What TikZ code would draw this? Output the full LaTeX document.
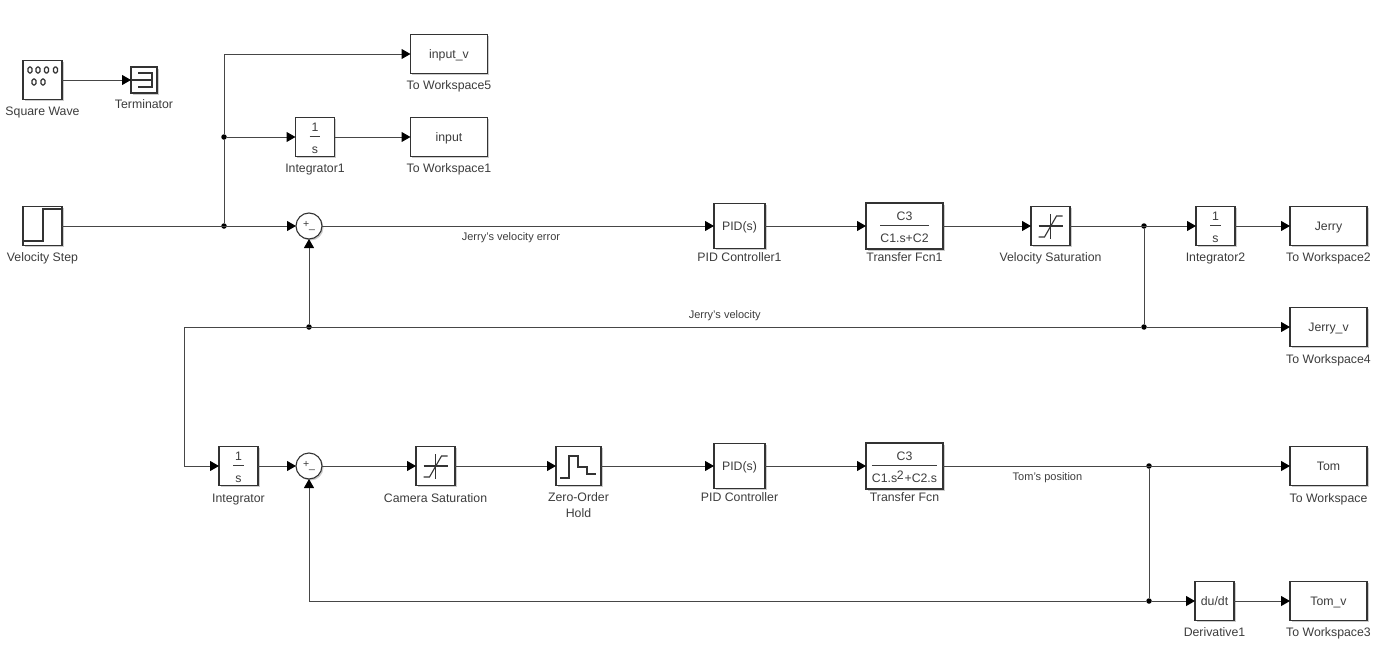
\documentclass[tikz,border=0pt]{standalone}
\usepackage{amsmath}
\usepackage{fontspec}
\setmainfont{Liberation Sans}
\usepackage{xcolor}
\usetikzlibrary{arrows.meta, positioning, shadows}
\definecolor{wirecol}{RGB}{70, 70, 70}
\definecolor{textcol}{RGB}{60, 60, 60}
\newcommand{\blockfrac}[2]{$\genfrac{}{}{1pt}{0}{\mbox{\rule[-1pt]{0pt}{12pt}#1}}{\mbox{\rule{0pt}{13pt}#2}}$}

\begin{document}
\begin{tikzpicture}[
    x=1pt, y=-1pt,
    block/.style={rectangle, draw=black!80, fill=white, line width=1.1pt, outer sep=0pt, inner sep=0pt, minimum width=39pt, minimum height=39pt, font=\fontsize{12.3}{14}\selectfont, text=textcol, drop shadow={shadow xshift=1.5pt, shadow yshift=-1.5pt, opacity=0.4}},
    txtblock/.style={block, text height=9pt, text depth=0pt},
    wksp/.style={txtblock, minimum width=77pt},
    ctrl/.style={txtblock, minimum width=51pt, minimum height=45pt},
    tfblock/.style={block, minimum width=77pt, minimum height=46pt},
    sumblock/.style={block, circle, minimum width=26pt, minimum height=26pt, font=\fontsize{10.5}{12}\selectfont},
    caption/.style={inner sep=0pt, text height=8pt, text depth=2pt, yshift=-1.5pt, text=textcol, font=\fontsize{12.3}{14}\selectfont},
    captwo/.style={inner sep=0pt, align=center, yshift=-1pt, text=textcol, font=\fontsize{12.3}{16}\selectfont},
    wirelabel/.style={inner sep=0pt, text=textcol, font=\fontsize{11}{13}\selectfont},
    dot/.style={circle, fill=black, inner sep=0pt, minimum size=5.5pt},
    icon/.style={draw=black!80, line width=1.1pt},
    wire/.style={draw=wirecol, line width=1pt},
    line/.style={draw=wirecol, line width=1pt, -{Triangle[length=9pt, width=10pt, color=black]}}
]
    \useasboundingbox (0,0) rectangle (1400,653);

    % Top left
    \node [block] (squarewave) at (42.5,80) {};
    \node [block, minimum width=26pt, minimum height=26pt, right=69pt of squarewave] (terminator) {};
    \node [caption, below=6pt of squarewave] (squarewave_cap) {Square Wave};
    \node [caption, below=6pt of terminator] (terminator_cap) {Terminator};

    % Velocity row
    \node [block] (velstep) at (42.5,226) {};
    \node [sumblock, right=234pt of velstep] (sumv) {+\raisebox{-1pt}{\_}};
    \node [ctrl, right=392pt of sumv] (pid1) {PID(s)};
    \node [tfblock, right=101pt of pid1] (tf1) {\blockfrac{C3}{C1.s+C2}};
    \node [block, right=88pt of tf1] (velsat) {};
    \node [block, right=126pt of velsat] (int2) {\blockfrac{\,1\,}{\,s\,}};
    \node [wksp, right=55pt of int2] (jerry) {Jerry};
    \node [wksp, below=62pt of jerry] (jerryv) {Jerry\_v};
    \node [caption, below=6pt of velstep] (velstep_cap) {Velocity Step};
    \node [caption, below=3pt of pid1] (pid1_cap) {PID Controller1};
    \node [caption, below=3pt of tf1] (tf1_cap) {Transfer Fcn1};
    \node [caption, below=6pt of velsat] (velsat_cap) {Velocity Saturation};
    \node [caption, below=6pt of int2] (int2_cap) {Integrator2};
    \node [caption, below=6pt of jerry] (jerry_cap) {To Workspace2};
    \node [caption, below=7pt of jerryv] (jerryv_cap) {To Workspace4};

    % Upper branch
    \node [block] (int1) at (315,137) {\blockfrac{\,1\,}{\,s\,}};
    \node [wksp, right=76pt of int1] (input) {input};
    \node [wksp, above=44pt of input] (inputv) {input\_v};
    \node [caption, below=6pt of int1] (int1_cap) {Integrator1};
    \node [caption, below=6pt of input] (input_cap) {To Workspace1};
    \node [caption, below=6pt of inputv] (inputv_cap) {To Workspace5};

    % Position row
    \node [block] (int3) at (238.5,466) {\blockfrac{\,1\,}{\,s\,}};
    \node [sumblock, right=38pt of int3] (sumt) {+\raisebox{-1pt}{\_}};
    \node [block, right=94pt of sumt] (camsat) {};
    \node [block, minimum width=45pt, right=101pt of camsat] (zoh) {};
    \node [ctrl, right=113pt of zoh] (pid) {PID(s)};
    \node [tfblock, right=101pt of pid] (tf) {\blockfrac{C3}{C1.s\kern-0.5pt\raisebox{3pt}{2}\kern1pt+C2.s}};
    \node [wksp, right=347pt of tf] (tom) {Tom};
    \node [wksp, below=96pt of tom] (tomv) {Tom\_v};
    \node [txtblock, left=56pt of tomv] (deriv) {du/dt};
    \node [caption, below=7pt of int3] (int3_cap) {Integrator};
    \node [caption, below=7pt of camsat] (camsat_cap) {Camera Saturation};
    \node [captwo, below=6pt of zoh] (zoh_cap) {Zero-Order\\Hold};
    \node [caption, below=3pt of pid] (pid_cap) {PID Controller};
    \node [caption, below=3pt of tf] (tf_cap) {Transfer Fcn};
    \node [caption, below=7pt of tom] (tom_cap) {To Workspace};
    \node [caption, below=6pt of tomv] (tomv_cap) {To Workspace3};
    \node [caption, below=6pt of deriv] (deriv_cap) {Derivative1};

    % Branch points
    \node [dot] (stepdot) at (224,0 |- velstep) {};
    \node [dot] (int1dot) at (224,0 |- int1) {};
    \node [dot] (jerrydot) at (1144,0 |- velsat) {};
    \node [dot] (jerryvdot) at (1144,0 |- jerryv) {};
    \node [dot] (sumvdot) at (sumv |- jerryv) {};
    \node [dot] (tomdot) at (1149,0 |- tom) {};
    \node [dot] (tomvdot) at (1149,0 |- deriv) {};
    \coordinate (corner) at (184,0 |- jerryv);

    % Paths
    \path [line] (squarewave) -- (terminator);
    \path [line] (velstep) -- (sumv);
    \path [wire] (stepdot) -- (int1dot);
    \path [line] (int1dot) -- (int1);
    \path [line] (int1dot) |- (inputv);
    \path [line] (int1) -- (input);
    \path [line] (sumv) -- node[wirelabel, pos=0.482, yshift=-11.5pt] (errlabel) {Jerry's velocity error} (pid1);
    \path [line] (pid1) -- (tf1);
    \path [line] (tf1) -- (velsat);
    \path [line] (velsat) -- (int2);
    \path [line] (int2) -- (jerry);
    \path [wire] (jerrydot) -- (jerryvdot);
    \path [line] (jerryvdot) -- (jerryv);
    \path [wire] (jerryvdot) -- node[wirelabel, pos=0.435, yshift=11pt] (vellabel) {Jerry's velocity} (corner);
    \path [line] (sumvdot) -- (sumv);
    \path [line] (corner) |- (int3);
    \path [line] (int3) -- (sumt);
    \path [line] (sumt) -- (camsat);
    \path [line] (camsat) -- (zoh);
    \path [line] (zoh) -- (pid);
    \path [line] (pid) -- (tf);
    \path [line] (tf) -- node[wirelabel, pos=0.301, yshift=-11.5pt] (poslabel) {Tom's position} (tom);
    \path [wire] (tomdot) -- (tomvdot);
    \path [line] (tomvdot) -- (deriv);
    \path [line] (deriv) -- (tomv);
    \path [line] (tomvdot) -| (sumt);

    % Icons
    \foreach \dx in {-12.5,-4.5,4,13}
        \draw [icon, rounded corners=1.5pt] ([shift={(\dx-2,-13)}]squarewave.center) rectangle ([shift={(\dx+2,-7)}]squarewave.center);
    \foreach \dx in {-8.5,0.5}
        \draw [icon, rounded corners=1.5pt] ([shift={(\dx-2,-1)}]squarewave.center) rectangle ([shift={(\dx+2,5)}]squarewave.center);
    \draw [icon] ([shift={(-6,-7)}]terminator.center) -- ([shift={(8,-7)}]terminator.center) -- ([shift={(8,7)}]terminator.center) -- ([shift={(-6,7)}]terminator.center);
    \draw [icon] ([shift={(-13,0)}]terminator.center) -- ([shift={(8,0)}]terminator.center);
    \draw [icon] ([shift={(-19.5,15)}]velstep.center) -- ([shift={(0.5,15)}]velstep.center) -- ([shift={(0.5,-17)}]velstep.center) -- ([shift={(19.5,-17)}]velstep.center);
    \foreach \sat in {velsat,camsat} {
        \draw [icon] ([shift={(-12,0)}]\sat.center) -- ([shift={(12,0)}]\sat.center);
        \draw [icon] ([shift={(0,-12)}]\sat.center) -- ([shift={(0,13)}]\sat.center);
        \draw [icon] ([shift={(-12,11)}]\sat.center) -- ([shift={(-6,11)}]\sat.center) -- ([shift={(6,-10)}]\sat.center) -- ([shift={(12,-10)}]\sat.center);
    }
    \draw [icon] ([shift={(-18.5,12)}]zoh.center) -- ([shift={(-9.5,12)}]zoh.center) -- ([shift={(-9.5,-10)}]zoh.center) -- ([shift={(-0.5,-10)}]zoh.center) -- ([shift={(-0.5,1)}]zoh.center) -- ([shift={(8.5,1)}]zoh.center) -- ([shift={(8.5,8)}]zoh.center) -- ([shift={(17.5,8)}]zoh.center);

\end{tikzpicture}
\end{document}
